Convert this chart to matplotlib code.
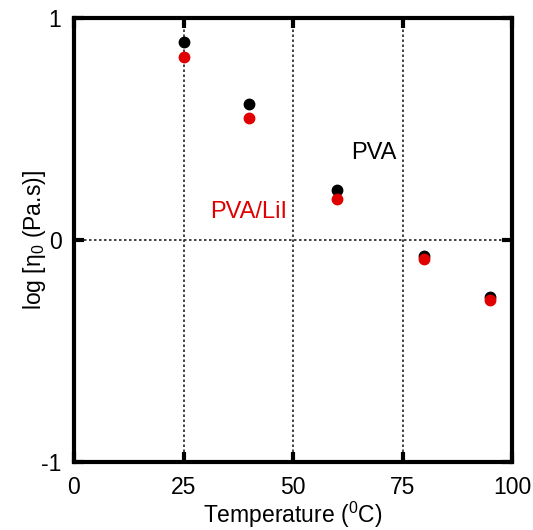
import numpy as np
import matplotlib.pyplot as plt

plt.rcParams['font.family'] = ['Liberation Sans', 'DejaVu Sans']
plt.rcParams['mathtext.fontset'] = 'custom'
plt.rcParams['mathtext.rm'] = 'Liberation Sans'

# zero-shear viscosity vs temperature
temperature = [25, 40, 60, 80, 95]
log_eta_pva = [0.893, 0.611, 0.225, -0.072, -0.255]
log_eta_pva_lii = [0.823, 0.551, 0.185, -0.086, -0.270]

fig = plt.figure(figsize=(5.33, 5.30), dpi=100)
ax = fig.add_axes([74 / 533, 1 - 462 / 530, 438 / 533, 444 / 530])

ax.plot(temperature, log_eta_pva, 'o', color='black', markersize=7.5, zorder=3)
ax.plot(temperature, log_eta_pva_lii, 'o', color='#e00000', markersize=7.5, zorder=4)

ax.set_xlim(0, 100)
ax.set_ylim(-1, 1)
ax.set_xticks([0, 25, 50, 75, 100])
ax.set_yticks([-1, 0, 1])
ax.set_yticklabels(['-1', '0', '1'])

# dotted grid
for x in [25, 50, 75]:
    ax.axvline(x, color='#222222', linestyle=(0, (1.5, 1.5)), linewidth=1.2, zorder=1)
ax.axhline(0, color='#222222', linestyle=(0, (1.5, 1.5)), linewidth=1.2, zorder=1)

for s in ax.spines.values():
    s.set_linewidth(3)
ax.tick_params(direction='in', length=7, width=3, top=True, right=True,
               labelsize=16.5)
ax.tick_params(axis='x', pad=10)
ax.tick_params(axis='y', pad=9)

ax.set_xlabel(r'Temperature ($\mathregular{^0}$C)', fontsize=16.5, labelpad=1)
ax.set_ylabel(r'log [$\mathregular{\eta_0}$ (Pa.s)]', fontsize=16.5, labelpad=-5)

ax.text(63.2, 0.365, 'PVA', fontsize=17, color='black')
ax.text(31, 0.1, 'PVA/LiI', fontsize=17, color='#e00000')

fig.savefig('out.png', dpi=100)
